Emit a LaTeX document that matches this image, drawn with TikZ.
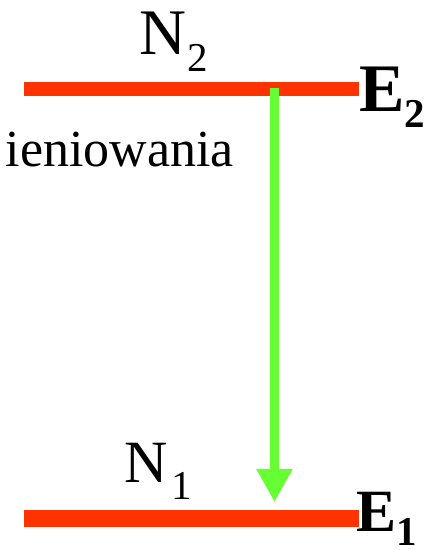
\documentclass[tikz,border=0pt]{standalone}
\usepackage{fontspec}
\setmainfont{Liberation Serif}
\usetikzlibrary{arrows.meta}
\definecolor{levelred}{HTML}{FF3300}
\definecolor{arrowgreen}{HTML}{66FF33}
\tikzset{
  level/.style={draw=levelred, line width=#1},
  lbl/.style={inner sep=0pt, outer sep=0pt, anchor=base west},
  transition/.style={draw=arrowgreen, line width=9pt, -{Triangle[width=34pt,length=33pt]}}
}
\begin{document}
\begin{tikzpicture}[x=1pt,y=1pt]
\useasboundingbox (0,0) rectangle (429,550);
\clip (0,0) rectangle (429,550);
% energy levels
\coordinate (L2a) at (24,461);
\coordinate (L2b) at (359,461);
\coordinate (L1a) at (24,31.5);
\coordinate (L1b) at (359,31.5);
\draw[level=14pt] (L2a) -- (L2b);
\draw[level=17pt] (L1a) -- (L1b);
% transition arrow
\coordinate (s) at (274.5,462);
\coordinate (t) at (274.5,48);
\draw[transition] (s) -- (t);
% labels
\node[lbl] (n2) at (139,495) {\fontsize{65}{65}\selectfont N\kern2pt\raisebox{-17pt}{\fontsize{41}{41}\selectfont 2}};
\node[lbl] (n1) at (124,67) {\fontsize{60}{60}\selectfont N\kern4pt\raisebox{-17pt}{\fontsize{41}{41}\selectfont 1}};
\node[lbl] (e2) at (359,438) {\fontsize{68}{68}\selectfont\bfseries E\raisebox{-16pt}{\fontsize{41}{41}\selectfont\bfseries 2}};
\node[lbl] (e1) at (356,18) {\fontsize{60}{60}\selectfont\bfseries E\raisebox{-13pt}{\fontsize{41}{41}\selectfont\bfseries 1}};
\node[inner sep=0pt, anchor=base east] (txt) at (234,383) {\fontsize{52}{52}\selectfont ieniowania};
\end{tikzpicture}
\end{document}
